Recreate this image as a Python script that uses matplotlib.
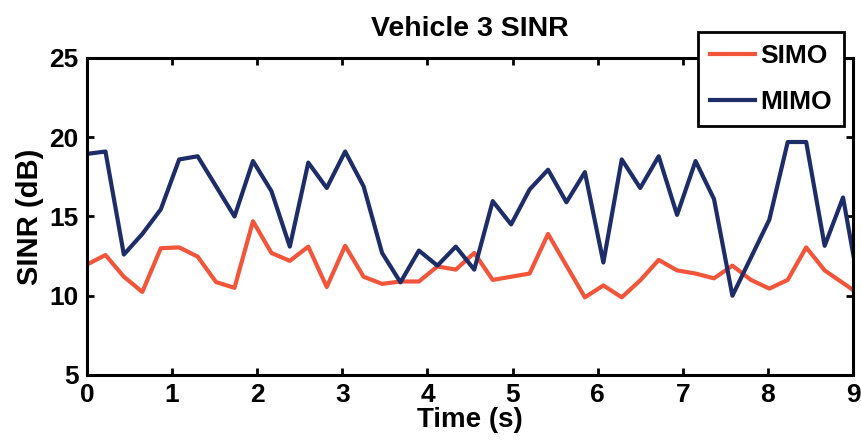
import matplotlib
matplotlib.use('Agg')
import matplotlib.pyplot as plt

# sample times (s)
time_s = [0.000, 0.217, 0.433, 0.650, 0.867, 1.083, 1.300, 1.517, 1.733, 1.950,
          2.167, 2.383, 2.600, 2.817, 3.033, 3.250, 3.467, 3.683, 3.900, 4.117,
          4.333, 4.550, 4.767, 4.983, 5.200, 5.417, 5.633, 5.850, 6.067, 6.283,
          6.500, 6.717, 6.933, 7.150, 7.367, 7.583, 7.800, 8.017, 8.233, 8.450,
          8.667, 8.883, 9.100]

simo_db = [11.97, 12.57, 11.2, 10.24, 13.0, 13.05, 12.47, 10.86, 10.5, 14.7,
           12.7, 12.2, 13.1, 10.55, 13.15, 11.2, 10.75, 10.9, 10.9, 11.85,
           11.65, 12.7, 11.0, 11.2, 11.4, 13.9, 11.9, 9.9, 10.65, 9.9,
           10.97, 12.26, 11.6, 11.4, 11.1, 11.9, 11.0, 10.45, 11.0, 13.05,
           11.6, 10.8, 10.0]

mimo_db = [18.95, 19.1, 12.6, 13.9, 15.45, 18.6, 18.8, 16.9, 15.0, 18.5,
           16.6, 13.1, 18.4, 16.8, 19.1, 16.9, 12.7, 10.85, 12.85, 11.9,
           13.1, 11.65, 15.97, 14.5, 16.7, 17.95, 15.9, 17.8, 12.1, 18.6,
           16.8, 18.8, 15.1, 18.5, 16.1, 10.0, 12.4, 14.8, 19.7, 19.7,
           13.15, 16.2, 9.7]

plt.rcParams['font.family'] = ['Liberation Sans', 'DejaVu Sans']
plt.rcParams['font.weight'] = 'bold'

fig = plt.figure(figsize=(8.61, 4.43), dpi=100)
ax = fig.add_axes([87/861, 1 - 375/443, (853 - 87)/861, (375 - 58)/443])

ax.plot(time_s, simo_db, color='#f2553a', lw=3.0, label='SIMO')
ax.plot(time_s, mimo_db, color='#1d2d68', lw=3.0, label='MIMO')

ax.set_xlim(0, 9)
ax.set_ylim(5, 25)
ax.set_xticks(range(0, 10))
ax.set_yticks([5, 10, 15, 20, 25])

for s in ax.spines.values():
    s.set_linewidth(2.2)
    s.set_color('black')
ax.tick_params(direction='in', top=True, right=True, length=5, width=2,
               labelsize=19, pad=6)

ax.set_title('Vehicle 3 SINR', fontsize=20.5, fontweight='bold', pad=16)
ax.set_xlabel('Time (s)', fontsize=20, fontweight='bold', labelpad=0)
ax.set_ylabel('SINR (dB)', fontsize=21, fontweight='bold', labelpad=4)

leg = fig.legend(loc='upper left', bbox_to_anchor=(698/861, 1 - 32/443),
                 fontsize=19, frameon=True, fancybox=False, framealpha=1,
                 edgecolor='black', handlelength=1.7, handletextpad=0.2,
                 labelspacing=0.85, borderpad=0.45, borderaxespad=0)
leg.get_frame().set_linewidth(2)
for line in leg.get_lines():
    line.set_linewidth(3)

fig.savefig('out.png', dpi=100)
